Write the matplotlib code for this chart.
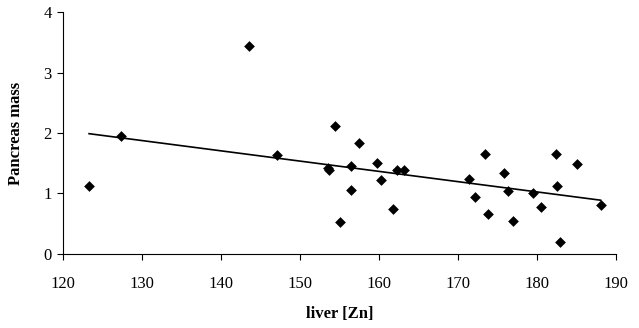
import numpy as np
import matplotlib
matplotlib.use("Agg")
import matplotlib.pyplot as plt

liver_zn = [123.3, 127.3, 143.5, 147.1, 153.5, 153.7, 154.4, 155.0, 156.4, 156.4,
            157.4, 159.7, 160.2, 161.8, 162.3, 163.1, 171.4, 172.1, 173.4, 173.8,
            175.8, 176.3, 176.9, 179.5, 180.5, 182.4, 182.5, 182.9, 185.0, 188.0]
pancreas_mass = [1.13, 1.95, 3.44, 1.63, 1.42, 1.38, 2.12, 0.53, 1.46, 1.06,
                 1.83, 1.50, 1.23, 0.74, 1.39, 1.38, 1.24, 0.94, 1.65, 0.66,
                 1.33, 1.04, 0.55, 1.00, 0.77, 1.65, 1.12, 0.20, 1.48, 0.81]

x_ticks = [120, 130, 140, 150, 160, 170, 180, 190]
y_ticks = [0, 1, 2, 3, 4]

plt.rcParams['font.family'] = ['Liberation Serif', 'DejaVu Serif']

fig = plt.figure(figsize=(6.39, 3.28), dpi=100)
ax = fig.add_axes([0.0986, 0.226, 0.866, 0.737])

ax.scatter(liver_zn, pancreas_mass, marker='D', s=30, color='black', zorder=3, linewidths=0)

slope, intercept = np.polyfit(liver_zn, pancreas_mass, 1)
xl = np.array([min(liver_zn), max(liver_zn)])
ax.plot(xl, slope * xl + intercept, color='black', lw=1.2, zorder=2)

ax.set_xlim(120, 190)
ax.set_ylim(0, 4)
ax.set_xticks(x_ticks)
ax.set_yticks(y_ticks)
ax.tick_params(axis='both', direction='out', length=4, width=0.8, labelsize=12, colors='black')
ax.tick_params(axis='x', pad=12)
ax.tick_params(axis='y', pad=4)
for s in ['top', 'right']:
    ax.spines[s].set_visible(False)
for s in ['left', 'bottom']:
    ax.spines[s].set_linewidth(0.8)

ax.set_xlabel('liver [Zn]', fontsize=12, fontweight='bold', labelpad=10)
ax.set_ylabel('Pancreas mass', fontsize=12, fontweight='bold', labelpad=14)

fig.savefig('out.png', dpi=100)
